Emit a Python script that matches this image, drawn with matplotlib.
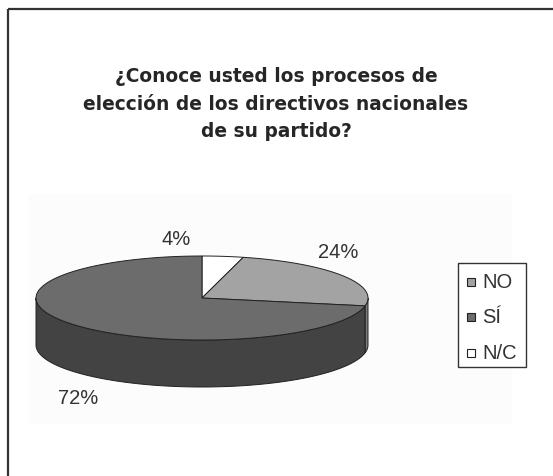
import numpy as np
import matplotlib
matplotlib.use("Agg")
import matplotlib.pyplot as plt
from matplotlib.patches import Polygon, Rectangle

# ---- data ----
labels = ["NO", "SÍ", "N/C"]
values = [24, 72, 4]
pct_labels = ["24%", "72%", "4%"]
title = "¿Conoce usted los procesos de\nelección de los directivos nacionales\nde su partido?"

# ---- styles ----
top_colors = {"NO": "#a3a3a3", "SÍ": "#6c6c6c", "N/C": "#ffffff"}
side_colors = {"NO": "#7a7a7a", "SÍ": "#434343", "N/C": "#d0d0d0"}
draw_order = ["N/C", "NO", "SÍ"]  # clockwise from 12 o'clock

W, H = 553, 477
fig = plt.figure(figsize=(W / 100, H / 100), dpi=100)
ax = fig.add_axes([0, 0, 1, 1])
ax.set_xlim(0, W)
ax.set_ylim(H, 0)
ax.axis("off")

# frame lines (top and left)
ax.plot([8, W], [10, 10], color="#333333", lw=1.6, solid_capstyle="butt")
ax.plot([8, 8], [10, H], color="#333333", lw=1.6, solid_capstyle="butt")

# plot area faint background
ax.add_patch(Rectangle((28, 195), 484, 230, facecolor="#fcfcfc", edgecolor="none", zorder=0))

ax.text(276, 104, title, ha="center", va="center", fontsize=13.4, fontweight="bold",
        family="DejaVu Sans", color="#262626", linespacing=1.55)

# pie geometry
cx, cy, a, b, depth = 202, 299, 166, 42, 47
def pt(theta_deg, dy=0.0):
    t = np.radians(theta_deg)
    return cx + a * np.cos(t), cy - b * np.sin(t) + dy

total = float(sum(values))
vals = dict(zip(labels, values))
angles = {}
start = 90.0
for lab in draw_order:
    sweep = 360.0 * vals[lab] / total
    angles[lab] = (start, start - sweep)
    start -= sweep

edge = "#222222"
# side walls: visible front part (angles between -180 and 0)
for lab in draw_order:
    s, e = angles[lab]  # s > e
    for shift in (0, -360, 360):
        hi = min(s + shift, 0.0)
        lo = max(e + shift, -180.0)
        if hi > lo:
            th = np.linspace(hi, lo, 80)
            top = [pt(t) for t in th]
            bot = [pt(t, depth) for t in th[::-1]]
            ax.add_patch(Polygon(top + bot, closed=True, facecolor=side_colors[lab],
                                 edgecolor=edge, lw=0.7, zorder=2))

# top faces
for lab in draw_order:
    s, e = angles[lab]
    th = np.linspace(s, e, 200)
    pts = [(cx, cy)] + [pt(t) for t in th]
    ax.add_patch(Polygon(pts, closed=True, facecolor=top_colors[lab],
                         edgecolor=edge, lw=0.7, zorder=3))

# percentage labels
lab_pos = {"N/C": (176, 240), "NO": (338, 253), "SÍ": (78, 399)}
for lab, txt in zip(labels, pct_labels):
    x, y = lab_pos[lab]
    ax.text(x, y, txt, ha="center", va="center", fontsize=14.5,
            family="Liberation Sans", color="#333333")

# legend
ax.add_patch(Rectangle((458, 264), 68, 104, facecolor="white", edgecolor="#333333", lw=1.0, zorder=4))
ys = [283, 318, 354]
for lab, y in zip(labels, ys):
    ax.add_patch(Rectangle((467, y - 4), 8, 8, facecolor=top_colors[lab],
                           edgecolor="#222222", lw=0.8, zorder=5))
    ax.text(482, y, lab, ha="left", va="center", fontsize=14.5,
            family="Liberation Sans", color="#333333", zorder=5)

fig.savefig("out.png", dpi=100)
